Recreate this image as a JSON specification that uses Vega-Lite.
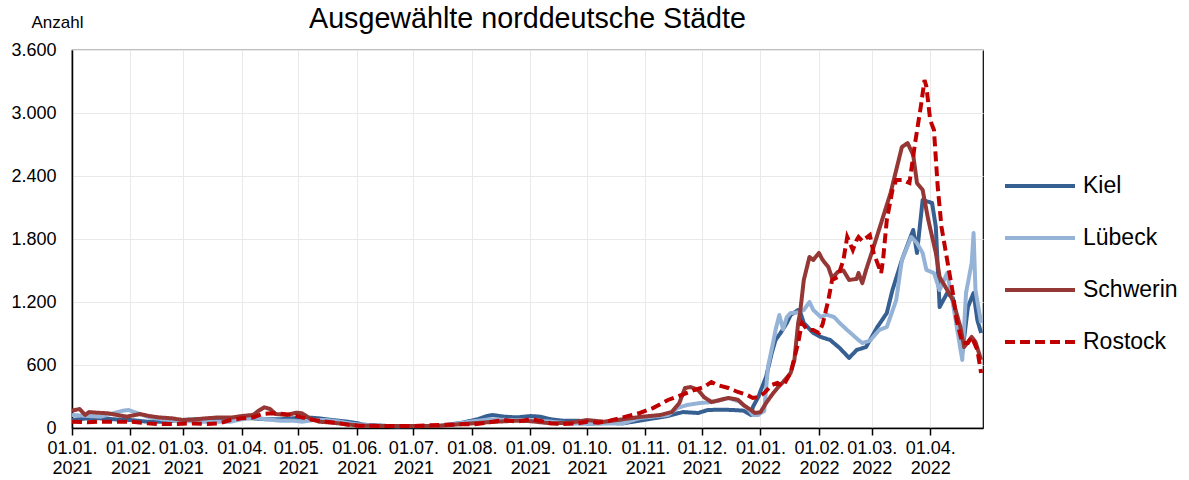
{
  "$schema": "https://vega.github.io/schema/vega-lite/v6.json",
  "width": 911,
  "height": 378,
  "autosize": {"type": "none"},
  "padding": {"left": 72, "top": 50, "right": 206, "bottom": 52},
  "background": "white",
  "title": {"text": "Ausgewählte norddeutsche Städte", "fontSize": 28.7, "font": "Liberation Sans", "fontWeight": "normal", "anchor": "middle", "color": "black", "offset": 0, "baseline": "alphabetic", "dy": 44},
  "config": {
    "view": {"stroke": "black", "strokeWidth": 1.2},
    "font": "Liberation Sans",
    "axis": {"domainColor": "black", "domainWidth": 1.5, "gridColor": "#e9e9e9", "gridWidth": 1, "labelColor": "black", "labelFont": "Liberation Sans", "labelFontSize": 18, "titleFont": "Liberation Sans"},
    "legend": {"orient": "none", "legendX": 931, "legendY": 99, "symbolType": "stroke", "symbolSize": 4900, "symbolStrokeWidth": 4, "labelFontSize": 23, "labelFont": "Liberation Sans", "labelColor": "black", "labelOffset": 6, "rowPadding": 3, "title": null}
  },
  "data": {"values": [
    {"Datum":"2021-01-01","Stadt":"Kiel","Anzahl":76},
    {"Datum":"2021-01-09","Stadt":"Kiel","Anzahl":92},
    {"Datum":"2021-01-16","Stadt":"Kiel","Anzahl":92},
    {"Datum":"2021-01-23","Stadt":"Kiel","Anzahl":83},
    {"Datum":"2021-02-01","Stadt":"Kiel","Anzahl":76},
    {"Datum":"2021-02-10","Stadt":"Kiel","Anzahl":60},
    {"Datum":"2021-02-18","Stadt":"Kiel","Anzahl":60},
    {"Datum":"2021-02-27","Stadt":"Kiel","Anzahl":76},
    {"Datum":"2021-03-08","Stadt":"Kiel","Anzahl":83},
    {"Datum":"2021-03-16","Stadt":"Kiel","Anzahl":76},
    {"Datum":"2021-03-26","Stadt":"Kiel","Anzahl":83},
    {"Datum":"2021-04-01","Stadt":"Kiel","Anzahl":92},
    {"Datum":"2021-04-07","Stadt":"Kiel","Anzahl":92},
    {"Datum":"2021-04-14","Stadt":"Kiel","Anzahl":83},
    {"Datum":"2021-04-21","Stadt":"Kiel","Anzahl":83},
    {"Datum":"2021-04-28","Stadt":"Kiel","Anzahl":92},
    {"Datum":"2021-05-05","Stadt":"Kiel","Anzahl":101},
    {"Datum":"2021-05-12","Stadt":"Kiel","Anzahl":92},
    {"Datum":"2021-05-19","Stadt":"Kiel","Anzahl":76},
    {"Datum":"2021-05-27","Stadt":"Kiel","Anzahl":60},
    {"Datum":"2021-06-02","Stadt":"Kiel","Anzahl":44},
    {"Datum":"2021-06-04","Stadt":"Kiel","Anzahl":32},
    {"Datum":"2021-06-22","Stadt":"Kiel","Anzahl":15},
    {"Datum":"2021-07-15","Stadt":"Kiel","Anzahl":20},
    {"Datum":"2021-07-27","Stadt":"Kiel","Anzahl":51},
    {"Datum":"2021-08-04","Stadt":"Kiel","Anzahl":83},
    {"Datum":"2021-08-09","Stadt":"Kiel","Anzahl":114},
    {"Datum":"2021-08-12","Stadt":"Kiel","Anzahl":124},
    {"Datum":"2021-08-18","Stadt":"Kiel","Anzahl":108},
    {"Datum":"2021-08-25","Stadt":"Kiel","Anzahl":101},
    {"Datum":"2021-09-01","Stadt":"Kiel","Anzahl":114},
    {"Datum":"2021-09-06","Stadt":"Kiel","Anzahl":108},
    {"Datum":"2021-09-12","Stadt":"Kiel","Anzahl":83},
    {"Datum":"2021-09-18","Stadt":"Kiel","Anzahl":70},
    {"Datum":"2021-09-26","Stadt":"Kiel","Anzahl":70},
    {"Datum":"2021-10-01","Stadt":"Kiel","Anzahl":60},
    {"Datum":"2021-10-10","Stadt":"Kiel","Anzahl":51},
    {"Datum":"2021-10-20","Stadt":"Kiel","Anzahl":44},
    {"Datum":"2021-10-29","Stadt":"Kiel","Anzahl":70},
    {"Datum":"2021-11-13","Stadt":"Kiel","Anzahl":114},
    {"Datum":"2021-11-16","Stadt":"Kiel","Anzahl":130},
    {"Datum":"2021-11-21","Stadt":"Kiel","Anzahl":152},
    {"Datum":"2021-11-29","Stadt":"Kiel","Anzahl":143},
    {"Datum":"2021-12-04","Stadt":"Kiel","Anzahl":171},
    {"Datum":"2021-12-11","Stadt":"Kiel","Anzahl":175},
    {"Datum":"2021-12-18","Stadt":"Kiel","Anzahl":171},
    {"Datum":"2021-12-23","Stadt":"Kiel","Anzahl":165},
    {"Datum":"2021-12-27","Stadt":"Kiel","Anzahl":124},
    {"Datum":"2021-12-28","Stadt":"Kiel","Anzahl":200},
    {"Datum":"2021-12-31","Stadt":"Kiel","Anzahl":300},
    {"Datum":"2022-01-01","Stadt":"Kiel","Anzahl":350},
    {"Datum":"2022-01-04","Stadt":"Kiel","Anzahl":486},
    {"Datum":"2022-01-07","Stadt":"Kiel","Anzahl":714},
    {"Datum":"2022-01-09","Stadt":"Kiel","Anzahl":838},
    {"Datum":"2022-01-12","Stadt":"Kiel","Anzahl":914},
    {"Datum":"2022-01-15","Stadt":"Kiel","Anzahl":1000},
    {"Datum":"2022-01-17","Stadt":"Kiel","Anzahl":1076},
    {"Datum":"2022-01-21","Stadt":"Kiel","Anzahl":1124},
    {"Datum":"2022-01-22","Stadt":"Kiel","Anzahl":1110},
    {"Datum":"2022-01-24","Stadt":"Kiel","Anzahl":1000},
    {"Datum":"2022-01-26","Stadt":"Kiel","Anzahl":962},
    {"Datum":"2022-01-29","Stadt":"Kiel","Anzahl":905},
    {"Datum":"2022-02-02","Stadt":"Kiel","Anzahl":867},
    {"Datum":"2022-02-07","Stadt":"Kiel","Anzahl":838},
    {"Datum":"2022-02-12","Stadt":"Kiel","Anzahl":762},
    {"Datum":"2022-02-17","Stadt":"Kiel","Anzahl":667},
    {"Datum":"2022-02-21","Stadt":"Kiel","Anzahl":743},
    {"Datum":"2022-02-26","Stadt":"Kiel","Anzahl":771},
    {"Datum":"2022-03-04","Stadt":"Kiel","Anzahl":962},
    {"Datum":"2022-03-09","Stadt":"Kiel","Anzahl":1095},
    {"Datum":"2022-03-12","Stadt":"Kiel","Anzahl":1314},
    {"Datum":"2022-03-17","Stadt":"Kiel","Anzahl":1600},
    {"Datum":"2022-03-23","Stadt":"Kiel","Anzahl":1886},
    {"Datum":"2022-03-25","Stadt":"Kiel","Anzahl":1667},
    {"Datum":"2022-03-28","Stadt":"Kiel","Anzahl":2171},
    {"Datum":"2022-04-02","Stadt":"Kiel","Anzahl":2143},
    {"Datum":"2022-04-04","Stadt":"Kiel","Anzahl":1914},
    {"Datum":"2022-04-06","Stadt":"Kiel","Anzahl":1152},
    {"Datum":"2022-04-10","Stadt":"Kiel","Anzahl":1286},
    {"Datum":"2022-04-13","Stadt":"Kiel","Anzahl":1240},
    {"Datum":"2022-04-18","Stadt":"Kiel","Anzahl":714},
    {"Datum":"2022-04-21","Stadt":"Kiel","Anzahl":1152},
    {"Datum":"2022-04-24","Stadt":"Kiel","Anzahl":1286},
    {"Datum":"2022-04-26","Stadt":"Kiel","Anzahl":1028},
    {"Datum":"2022-04-28","Stadt":"Kiel","Anzahl":905},

    {"Datum":"2021-01-01","Stadt":"Lübeck","Anzahl":124},
    {"Datum":"2021-01-09","Stadt":"Lübeck","Anzahl":115},
    {"Datum":"2021-01-16","Stadt":"Lübeck","Anzahl":108},
    {"Datum":"2021-01-23","Stadt":"Lübeck","Anzahl":140},
    {"Datum":"2021-01-28","Stadt":"Lübeck","Anzahl":165},
    {"Datum":"2021-01-31","Stadt":"Lübeck","Anzahl":171},
    {"Datum":"2021-02-05","Stadt":"Lübeck","Anzahl":140},
    {"Datum":"2021-02-11","Stadt":"Lübeck","Anzahl":101},
    {"Datum":"2021-02-18","Stadt":"Lübeck","Anzahl":83},
    {"Datum":"2021-02-27","Stadt":"Lübeck","Anzahl":70},
    {"Datum":"2021-03-08","Stadt":"Lübeck","Anzahl":60},
    {"Datum":"2021-03-16","Stadt":"Lübeck","Anzahl":60},
    {"Datum":"2021-03-26","Stadt":"Lübeck","Anzahl":60},
    {"Datum":"2021-04-01","Stadt":"Lübeck","Anzahl":83},
    {"Datum":"2021-04-07","Stadt":"Lübeck","Anzahl":101},
    {"Datum":"2021-04-14","Stadt":"Lübeck","Anzahl":83},
    {"Datum":"2021-04-21","Stadt":"Lübeck","Anzahl":70},
    {"Datum":"2021-04-28","Stadt":"Lübeck","Anzahl":70},
    {"Datum":"2021-05-03","Stadt":"Lübeck","Anzahl":60},
    {"Datum":"2021-05-09","Stadt":"Lübeck","Anzahl":76},
    {"Datum":"2021-05-16","Stadt":"Lübeck","Anzahl":76},
    {"Datum":"2021-05-23","Stadt":"Lübeck","Anzahl":60},
    {"Datum":"2021-05-30","Stadt":"Lübeck","Anzahl":38},
    {"Datum":"2021-06-13","Stadt":"Lübeck","Anzahl":20},
    {"Datum":"2021-07-15","Stadt":"Lübeck","Anzahl":20},
    {"Datum":"2021-07-31","Stadt":"Lübeck","Anzahl":60},
    {"Datum":"2021-08-11","Stadt":"Lübeck","Anzahl":83},
    {"Datum":"2021-08-21","Stadt":"Lübeck","Anzahl":76},
    {"Datum":"2021-09-01","Stadt":"Lübeck","Anzahl":76},
    {"Datum":"2021-09-12","Stadt":"Lübeck","Anzahl":60},
    {"Datum":"2021-09-22","Stadt":"Lübeck","Anzahl":44},
    {"Datum":"2021-10-03","Stadt":"Lübeck","Anzahl":38},
    {"Datum":"2021-10-13","Stadt":"Lübeck","Anzahl":44},
    {"Datum":"2021-10-20","Stadt":"Lübeck","Anzahl":44},
    {"Datum":"2021-10-29","Stadt":"Lübeck","Anzahl":95},
    {"Datum":"2021-11-13","Stadt":"Lübeck","Anzahl":124},
    {"Datum":"2021-11-18","Stadt":"Lübeck","Anzahl":190},
    {"Datum":"2021-11-23","Stadt":"Lübeck","Anzahl":219},
    {"Datum":"2021-11-30","Stadt":"Lübeck","Anzahl":238},
    {"Datum":"2021-12-07","Stadt":"Lübeck","Anzahl":248},
    {"Datum":"2021-12-15","Stadt":"Lübeck","Anzahl":286},
    {"Datum":"2021-12-21","Stadt":"Lübeck","Anzahl":250},
    {"Datum":"2021-12-26","Stadt":"Lübeck","Anzahl":171},
    {"Datum":"2021-12-28","Stadt":"Lübeck","Anzahl":124},
    {"Datum":"2021-12-31","Stadt":"Lübeck","Anzahl":124},
    {"Datum":"2022-01-01","Stadt":"Lübeck","Anzahl":143},
    {"Datum":"2022-01-03","Stadt":"Lübeck","Anzahl":160},
    {"Datum":"2022-01-05","Stadt":"Lübeck","Anzahl":581},
    {"Datum":"2022-01-08","Stadt":"Lübeck","Anzahl":838},
    {"Datum":"2022-01-09","Stadt":"Lübeck","Anzahl":933},
    {"Datum":"2022-01-11","Stadt":"Lübeck","Anzahl":1076},
    {"Datum":"2022-01-13","Stadt":"Lübeck","Anzahl":940},
    {"Datum":"2022-01-15","Stadt":"Lübeck","Anzahl":1057},
    {"Datum":"2022-01-17","Stadt":"Lübeck","Anzahl":1095},
    {"Datum":"2022-01-21","Stadt":"Lübeck","Anzahl":1100},
    {"Datum":"2022-01-24","Stadt":"Lübeck","Anzahl":1124},
    {"Datum":"2022-01-27","Stadt":"Lübeck","Anzahl":1200},
    {"Datum":"2022-01-29","Stadt":"Lübeck","Anzahl":1124},
    {"Datum":"2022-02-02","Stadt":"Lübeck","Anzahl":1057},
    {"Datum":"2022-02-05","Stadt":"Lübeck","Anzahl":1080},
    {"Datum":"2022-02-09","Stadt":"Lübeck","Anzahl":1057},
    {"Datum":"2022-02-12","Stadt":"Lübeck","Anzahl":1000},
    {"Datum":"2022-02-16","Stadt":"Lübeck","Anzahl":933},
    {"Datum":"2022-02-19","Stadt":"Lübeck","Anzahl":886},
    {"Datum":"2022-02-22","Stadt":"Lübeck","Anzahl":838},
    {"Datum":"2022-02-24","Stadt":"Lübeck","Anzahl":810},
    {"Datum":"2022-02-28","Stadt":"Lübeck","Anzahl":830},
    {"Datum":"2022-03-05","Stadt":"Lübeck","Anzahl":933},
    {"Datum":"2022-03-09","Stadt":"Lübeck","Anzahl":962},
    {"Datum":"2022-03-14","Stadt":"Lübeck","Anzahl":1219},
    {"Datum":"2022-03-17","Stadt":"Lübeck","Anzahl":1600},
    {"Datum":"2022-03-22","Stadt":"Lübeck","Anzahl":1819},
    {"Datum":"2022-03-25","Stadt":"Lübeck","Anzahl":1760},
    {"Datum":"2022-03-28","Stadt":"Lübeck","Anzahl":1667},
    {"Datum":"2022-03-30","Stadt":"Lübeck","Anzahl":1505},
    {"Datum":"2022-04-03","Stadt":"Lübeck","Anzahl":1476},
    {"Datum":"2022-04-06","Stadt":"Lübeck","Anzahl":1314},
    {"Datum":"2022-04-10","Stadt":"Lübeck","Anzahl":1476},
    {"Datum":"2022-04-13","Stadt":"Lübeck","Anzahl":1190},
    {"Datum":"2022-04-18","Stadt":"Lübeck","Anzahl":648},
    {"Datum":"2022-04-20","Stadt":"Lübeck","Anzahl":1286},
    {"Datum":"2022-04-23","Stadt":"Lübeck","Anzahl":1571},
    {"Datum":"2022-04-24","Stadt":"Lübeck","Anzahl":1857},
    {"Datum":"2022-04-25","Stadt":"Lübeck","Anzahl":1314},
    {"Datum":"2022-04-28","Stadt":"Lübeck","Anzahl":1000},

    {"Datum":"2021-01-01","Stadt":"Schwerin","Anzahl":165},
    {"Datum":"2021-01-05","Stadt":"Schwerin","Anzahl":181},
    {"Datum":"2021-01-08","Stadt":"Schwerin","Anzahl":124},
    {"Datum":"2021-01-10","Stadt":"Schwerin","Anzahl":152},
    {"Datum":"2021-01-14","Stadt":"Schwerin","Anzahl":146},
    {"Datum":"2021-01-20","Stadt":"Schwerin","Anzahl":140},
    {"Datum":"2021-01-25","Stadt":"Schwerin","Anzahl":124},
    {"Datum":"2021-01-30","Stadt":"Schwerin","Anzahl":108},
    {"Datum":"2021-02-06","Stadt":"Schwerin","Anzahl":133},
    {"Datum":"2021-02-11","Stadt":"Schwerin","Anzahl":114},
    {"Datum":"2021-02-16","Stadt":"Schwerin","Anzahl":101},
    {"Datum":"2021-02-23","Stadt":"Schwerin","Anzahl":92},
    {"Datum":"2021-03-01","Stadt":"Schwerin","Anzahl":76},
    {"Datum":"2021-03-06","Stadt":"Schwerin","Anzahl":80},
    {"Datum":"2021-03-13","Stadt":"Schwerin","Anzahl":92},
    {"Datum":"2021-03-20","Stadt":"Schwerin","Anzahl":101},
    {"Datum":"2021-03-27","Stadt":"Schwerin","Anzahl":101},
    {"Datum":"2021-04-01","Stadt":"Schwerin","Anzahl":114},
    {"Datum":"2021-04-07","Stadt":"Schwerin","Anzahl":124},
    {"Datum":"2021-04-10","Stadt":"Schwerin","Anzahl":165},
    {"Datum":"2021-04-13","Stadt":"Schwerin","Anzahl":197},
    {"Datum":"2021-04-16","Stadt":"Schwerin","Anzahl":181},
    {"Datum":"2021-04-19","Stadt":"Schwerin","Anzahl":133},
    {"Datum":"2021-04-25","Stadt":"Schwerin","Anzahl":124},
    {"Datum":"2021-04-30","Stadt":"Schwerin","Anzahl":146},
    {"Datum":"2021-05-03","Stadt":"Schwerin","Anzahl":140},
    {"Datum":"2021-05-07","Stadt":"Schwerin","Anzahl":92},
    {"Datum":"2021-05-12","Stadt":"Schwerin","Anzahl":60},
    {"Datum":"2021-05-19","Stadt":"Schwerin","Anzahl":51},
    {"Datum":"2021-05-27","Stadt":"Schwerin","Anzahl":35},
    {"Datum":"2021-06-02","Stadt":"Schwerin","Anzahl":22},
    {"Datum":"2021-06-22","Stadt":"Schwerin","Anzahl":18},
    {"Datum":"2021-07-15","Stadt":"Schwerin","Anzahl":20},
    {"Datum":"2021-07-27","Stadt":"Schwerin","Anzahl":38},
    {"Datum":"2021-08-14","Stadt":"Schwerin","Anzahl":60},
    {"Datum":"2021-08-25","Stadt":"Schwerin","Anzahl":70},
    {"Datum":"2021-09-01","Stadt":"Schwerin","Anzahl":65},
    {"Datum":"2021-09-12","Stadt":"Schwerin","Anzahl":44},
    {"Datum":"2021-09-22","Stadt":"Schwerin","Anzahl":50},
    {"Datum":"2021-10-01","Stadt":"Schwerin","Anzahl":76},
    {"Datum":"2021-10-10","Stadt":"Schwerin","Anzahl":60},
    {"Datum":"2021-10-20","Stadt":"Schwerin","Anzahl":83},
    {"Datum":"2021-10-29","Stadt":"Schwerin","Anzahl":105},
    {"Datum":"2021-11-09","Stadt":"Schwerin","Anzahl":124},
    {"Datum":"2021-11-15","Stadt":"Schwerin","Anzahl":152},
    {"Datum":"2021-11-19","Stadt":"Schwerin","Anzahl":238},
    {"Datum":"2021-11-22","Stadt":"Schwerin","Anzahl":381},
    {"Datum":"2021-11-25","Stadt":"Schwerin","Anzahl":390},
    {"Datum":"2021-11-29","Stadt":"Schwerin","Anzahl":362},
    {"Datum":"2021-12-02","Stadt":"Schwerin","Anzahl":295},
    {"Datum":"2021-12-06","Stadt":"Schwerin","Anzahl":248},
    {"Datum":"2021-12-09","Stadt":"Schwerin","Anzahl":260},
    {"Datum":"2021-12-15","Stadt":"Schwerin","Anzahl":286},
    {"Datum":"2021-12-20","Stadt":"Schwerin","Anzahl":270},
    {"Datum":"2021-12-23","Stadt":"Schwerin","Anzahl":219},
    {"Datum":"2021-12-27","Stadt":"Schwerin","Anzahl":171},
    {"Datum":"2021-12-29","Stadt":"Schwerin","Anzahl":143},
    {"Datum":"2022-01-01","Stadt":"Schwerin","Anzahl":150},
    {"Datum":"2022-01-04","Stadt":"Schwerin","Anzahl":238},
    {"Datum":"2022-01-07","Stadt":"Schwerin","Anzahl":314},
    {"Datum":"2022-01-10","Stadt":"Schwerin","Anzahl":381},
    {"Datum":"2022-01-13","Stadt":"Schwerin","Anzahl":438},
    {"Datum":"2022-01-17","Stadt":"Schwerin","Anzahl":524},
    {"Datum":"2022-01-19","Stadt":"Schwerin","Anzahl":648},
    {"Datum":"2022-01-21","Stadt":"Schwerin","Anzahl":1000},
    {"Datum":"2022-01-22","Stadt":"Schwerin","Anzahl":1095},
    {"Datum":"2022-01-24","Stadt":"Schwerin","Anzahl":1410},
    {"Datum":"2022-01-27","Stadt":"Schwerin","Anzahl":1629},
    {"Datum":"2022-01-29","Stadt":"Schwerin","Anzahl":1600},
    {"Datum":"2022-02-01","Stadt":"Schwerin","Anzahl":1667},
    {"Datum":"2022-02-03","Stadt":"Schwerin","Anzahl":1600},
    {"Datum":"2022-02-06","Stadt":"Schwerin","Anzahl":1533},
    {"Datum":"2022-02-08","Stadt":"Schwerin","Anzahl":1428},
    {"Datum":"2022-02-11","Stadt":"Schwerin","Anzahl":1486},
    {"Datum":"2022-02-14","Stadt":"Schwerin","Anzahl":1500},
    {"Datum":"2022-02-17","Stadt":"Schwerin","Anzahl":1410},
    {"Datum":"2022-02-21","Stadt":"Schwerin","Anzahl":1420},
    {"Datum":"2022-02-22","Stadt":"Schwerin","Anzahl":1476},
    {"Datum":"2022-02-24","Stadt":"Schwerin","Anzahl":1380},
    {"Datum":"2022-02-26","Stadt":"Schwerin","Anzahl":1505},
    {"Datum":"2022-03-02","Stadt":"Schwerin","Anzahl":1724},
    {"Datum":"2022-03-07","Stadt":"Schwerin","Anzahl":2010},
    {"Datum":"2022-03-11","Stadt":"Schwerin","Anzahl":2238},
    {"Datum":"2022-03-14","Stadt":"Schwerin","Anzahl":2457},
    {"Datum":"2022-03-17","Stadt":"Schwerin","Anzahl":2676},
    {"Datum":"2022-03-20","Stadt":"Schwerin","Anzahl":2714},
    {"Datum":"2022-03-23","Stadt":"Schwerin","Anzahl":2600},
    {"Datum":"2022-03-25","Stadt":"Schwerin","Anzahl":2333},
    {"Datum":"2022-03-28","Stadt":"Schwerin","Anzahl":2267},
    {"Datum":"2022-03-31","Stadt":"Schwerin","Anzahl":1981},
    {"Datum":"2022-04-04","Stadt":"Schwerin","Anzahl":1667},
    {"Datum":"2022-04-06","Stadt":"Schwerin","Anzahl":1438},
    {"Datum":"2022-04-10","Stadt":"Schwerin","Anzahl":1314},
    {"Datum":"2022-04-13","Stadt":"Schwerin","Anzahl":1219},
    {"Datum":"2022-04-17","Stadt":"Schwerin","Anzahl":962},
    {"Datum":"2022-04-19","Stadt":"Schwerin","Anzahl":771},
    {"Datum":"2022-04-23","Stadt":"Schwerin","Anzahl":867},
    {"Datum":"2022-04-25","Stadt":"Schwerin","Anzahl":820},
    {"Datum":"2022-04-28","Stadt":"Schwerin","Anzahl":648},

    {"Datum":"2021-01-01","Stadt":"Rostock","Anzahl":60},
    {"Datum":"2021-01-09","Stadt":"Rostock","Anzahl":54},
    {"Datum":"2021-01-16","Stadt":"Rostock","Anzahl":60},
    {"Datum":"2021-01-23","Stadt":"Rostock","Anzahl":60},
    {"Datum":"2021-02-01","Stadt":"Rostock","Anzahl":60},
    {"Datum":"2021-02-10","Stadt":"Rostock","Anzahl":44},
    {"Datum":"2021-02-16","Stadt":"Rostock","Anzahl":38},
    {"Datum":"2021-02-25","Stadt":"Rostock","Anzahl":38},
    {"Datum":"2021-03-06","Stadt":"Rostock","Anzahl":44},
    {"Datum":"2021-03-13","Stadt":"Rostock","Anzahl":38},
    {"Datum":"2021-03-20","Stadt":"Rostock","Anzahl":44},
    {"Datum":"2021-03-26","Stadt":"Rostock","Anzahl":76},
    {"Datum":"2021-04-01","Stadt":"Rostock","Anzahl":92},
    {"Datum":"2021-04-07","Stadt":"Rostock","Anzahl":101},
    {"Datum":"2021-04-12","Stadt":"Rostock","Anzahl":133},
    {"Datum":"2021-04-17","Stadt":"Rostock","Anzahl":140},
    {"Datum":"2021-04-23","Stadt":"Rostock","Anzahl":133},
    {"Datum":"2021-04-28","Stadt":"Rostock","Anzahl":124},
    {"Datum":"2021-05-03","Stadt":"Rostock","Anzahl":101},
    {"Datum":"2021-05-09","Stadt":"Rostock","Anzahl":76},
    {"Datum":"2021-05-16","Stadt":"Rostock","Anzahl":60},
    {"Datum":"2021-05-23","Stadt":"Rostock","Anzahl":44},
    {"Datum":"2021-05-28","Stadt":"Rostock","Anzahl":29},
    {"Datum":"2021-06-02","Stadt":"Rostock","Anzahl":22},
    {"Datum":"2021-06-13","Stadt":"Rostock","Anzahl":19},
    {"Datum":"2021-07-01","Stadt":"Rostock","Anzahl":19},
    {"Datum":"2021-07-15","Stadt":"Rostock","Anzahl":29},
    {"Datum":"2021-07-24","Stadt":"Rostock","Anzahl":35},
    {"Datum":"2021-08-02","Stadt":"Rostock","Anzahl":35},
    {"Datum":"2021-08-09","Stadt":"Rostock","Anzahl":51},
    {"Datum":"2021-08-18","Stadt":"Rostock","Anzahl":76},
    {"Datum":"2021-08-25","Stadt":"Rostock","Anzahl":60},
    {"Datum":"2021-09-01","Stadt":"Rostock","Anzahl":83},
    {"Datum":"2021-09-06","Stadt":"Rostock","Anzahl":70},
    {"Datum":"2021-09-12","Stadt":"Rostock","Anzahl":44},
    {"Datum":"2021-09-18","Stadt":"Rostock","Anzahl":38},
    {"Datum":"2021-09-26","Stadt":"Rostock","Anzahl":44},
    {"Datum":"2021-10-01","Stadt":"Rostock","Anzahl":60},
    {"Datum":"2021-10-07","Stadt":"Rostock","Anzahl":51},
    {"Datum":"2021-10-13","Stadt":"Rostock","Anzahl":70},
    {"Datum":"2021-10-20","Stadt":"Rostock","Anzahl":101},
    {"Datum":"2021-10-29","Stadt":"Rostock","Anzahl":143},
    {"Datum":"2021-11-05","Stadt":"Rostock","Anzahl":190},
    {"Datum":"2021-11-13","Stadt":"Rostock","Anzahl":267},
    {"Datum":"2021-11-20","Stadt":"Rostock","Anzahl":314},
    {"Datum":"2021-11-27","Stadt":"Rostock","Anzahl":362},
    {"Datum":"2021-12-02","Stadt":"Rostock","Anzahl":390},
    {"Datum":"2021-12-06","Stadt":"Rostock","Anzahl":438},
    {"Datum":"2021-12-09","Stadt":"Rostock","Anzahl":410},
    {"Datum":"2021-12-15","Stadt":"Rostock","Anzahl":381},
    {"Datum":"2021-12-20","Stadt":"Rostock","Anzahl":343},
    {"Datum":"2021-12-25","Stadt":"Rostock","Anzahl":314},
    {"Datum":"2021-12-28","Stadt":"Rostock","Anzahl":286},
    {"Datum":"2021-12-31","Stadt":"Rostock","Anzahl":295},
    {"Datum":"2022-01-03","Stadt":"Rostock","Anzahl":333},
    {"Datum":"2022-01-07","Stadt":"Rostock","Anzahl":410},
    {"Datum":"2022-01-10","Stadt":"Rostock","Anzahl":429},
    {"Datum":"2022-01-13","Stadt":"Rostock","Anzahl":400},
    {"Datum":"2022-01-17","Stadt":"Rostock","Anzahl":524},
    {"Datum":"2022-01-21","Stadt":"Rostock","Anzahl":810},
    {"Datum":"2022-01-23","Stadt":"Rostock","Anzahl":1000},
    {"Datum":"2022-01-26","Stadt":"Rostock","Anzahl":933},
    {"Datum":"2022-01-29","Stadt":"Rostock","Anzahl":933},
    {"Datum":"2022-02-01","Stadt":"Rostock","Anzahl":905},
    {"Datum":"2022-02-03","Stadt":"Rostock","Anzahl":990},
    {"Datum":"2022-02-06","Stadt":"Rostock","Anzahl":1219},
    {"Datum":"2022-02-08","Stadt":"Rostock","Anzahl":1410},
    {"Datum":"2022-02-11","Stadt":"Rostock","Anzahl":1438},
    {"Datum":"2022-02-14","Stadt":"Rostock","Anzahl":1600},
    {"Datum":"2022-02-16","Stadt":"Rostock","Anzahl":1819},
    {"Datum":"2022-02-19","Stadt":"Rostock","Anzahl":1695},
    {"Datum":"2022-02-21","Stadt":"Rostock","Anzahl":1790},
    {"Datum":"2022-02-22","Stadt":"Rostock","Anzahl":1819},
    {"Datum":"2022-02-24","Stadt":"Rostock","Anzahl":1780},
    {"Datum":"2022-02-28","Stadt":"Rostock","Anzahl":1838},
    {"Datum":"2022-03-02","Stadt":"Rostock","Anzahl":1667},
    {"Datum":"2022-03-06","Stadt":"Rostock","Anzahl":1476},
    {"Datum":"2022-03-07","Stadt":"Rostock","Anzahl":1600},
    {"Datum":"2022-03-09","Stadt":"Rostock","Anzahl":1981},
    {"Datum":"2022-03-12","Stadt":"Rostock","Anzahl":2267},
    {"Datum":"2022-03-14","Stadt":"Rostock","Anzahl":2362},
    {"Datum":"2022-03-17","Stadt":"Rostock","Anzahl":2362},
    {"Datum":"2022-03-21","Stadt":"Rostock","Anzahl":2333},
    {"Datum":"2022-03-24","Stadt":"Rostock","Anzahl":2714},
    {"Datum":"2022-03-27","Stadt":"Rostock","Anzahl":3057},
    {"Datum":"2022-03-29","Stadt":"Rostock","Anzahl":3314},
    {"Datum":"2022-03-30","Stadt":"Rostock","Anzahl":3250},
    {"Datum":"2022-04-01","Stadt":"Rostock","Anzahl":2933},
    {"Datum":"2022-04-03","Stadt":"Rostock","Anzahl":2838},
    {"Datum":"2022-04-05","Stadt":"Rostock","Anzahl":2295},
    {"Datum":"2022-04-07","Stadt":"Rostock","Anzahl":1914},
    {"Datum":"2022-04-10","Stadt":"Rostock","Anzahl":1600},
    {"Datum":"2022-04-13","Stadt":"Rostock","Anzahl":1286},
    {"Datum":"2022-04-15","Stadt":"Rostock","Anzahl":1028},
    {"Datum":"2022-04-18","Stadt":"Rostock","Anzahl":810},
    {"Datum":"2022-04-21","Stadt":"Rostock","Anzahl":810},
    {"Datum":"2022-04-23","Stadt":"Rostock","Anzahl":867},
    {"Datum":"2022-04-26","Stadt":"Rostock","Anzahl":743},
    {"Datum":"2022-04-28","Stadt":"Rostock","Anzahl":524}
  ]},
  "encoding": {
    "x": {"field": "Datum", "type": "temporal",
      "scale": {"type": "utc", "domain": [1609459200000, 1651190400000], "nice": false},
      "axis": {"title": null, "values": [1609459200000,1612137600000,1614556800000,1617235200000,1619827200000,1622505600000,1625097600000,1627776000000,1630454400000,1633046400000,1635724800000,1638316800000,1640995200000,1643673600000,1646092800000,1648771200000],
        "labelExpr": "[utcFormat(datum.value, '%d.%m.'), utcFormat(datum.value, '%Y')]",
        "labelLineHeight": 20, "labelPadding": 4, "tickSize": 7, "tickColor": "black", "tickWidth": 1.5, "grid": true, "labelOverlap": false, "labelBound": false, "labelFlush": false}},
    "y": {"field": "Anzahl", "type": "quantitative",
      "scale": {"domain": [0, 3600], "nice": false},
      "axis": {"title": "Anzahl", "titleAngle": 0, "titleX": -15, "titleY": -28, "titleAlign": "center", "titleBaseline": "middle", "titleFontSize": 17, "titleFontWeight": "normal", "titleColor": "black",
        "values": [0,600,1200,1800,2400,3000,3600], "ticks": false, "tickSize": 0, "labelPadding": 16,
        "labelExpr": "replace(format(datum.value, ','), ',', '.')", "grid": true}},
    "color": {"field": "Stadt", "type": "nominal",
      "scale": {"domain": ["Kiel", "Lübeck", "Schwerin", "Rostock"], "range": ["#376092", "#95B3D7", "#953735", "#C00000"]}},
    "strokeDash": {"field": "Stadt", "type": "nominal",
      "scale": {"domain": ["Kiel", "Lübeck", "Schwerin", "Rostock"], "range": [[1, 0], [1, 0], [1, 0], [10, 5]]}}
  },
  "layer": [
    {"transform": [{"filter": "datum.Stadt !== 'Rostock'"}], "mark": {"type": "line", "strokeWidth": 4, "strokeJoin": "round"}},
    {"transform": [{"filter": "datum.Stadt === 'Rostock'"}], "mark": {"type": "line", "strokeWidth": 4}}
  ]
}
